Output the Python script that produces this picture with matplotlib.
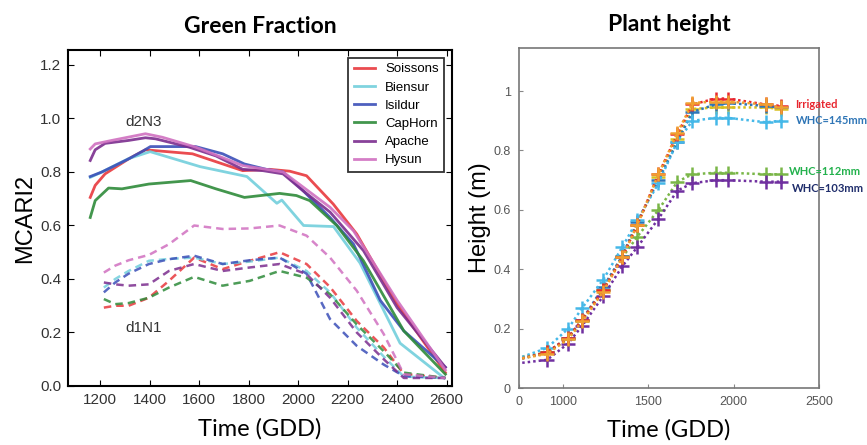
import numpy as np
import matplotlib
matplotlib.use("Agg")
import matplotlib.pyplot as plt

# ---- Green fraction (MCARI2) per cultivar, two treatments ----
cultivars = ["Soissons", "Biensur", "Isildur", "CapHorn", "Apache", "Hysun"]
cult_colors = ["#e8383d", "#72cfdc", "#3b4fb8", "#2e8b3a", "#7b2d8e", "#d070c0"]

# d2N3 (solid)
soissons_gdd = [1160, 1180, 1220, 1315, 1383, 1573, 1776, 1885, 1966, 2034, 2142, 2237, 2400, 2595]
soissons_hi = [0.705, 0.75, 0.793, 0.849, 0.883, 0.868, 0.805, 0.81, 0.803, 0.786, 0.68, 0.568, 0.306, 0.05]
biensur_gdd = [1160, 1207, 1315, 1402, 1604, 1793, 1914, 1934, 2022, 2143, 2250, 2412, 2590]
biensur_hi = [0.78, 0.80, 0.85, 0.876, 0.82, 0.783, 0.683, 0.695, 0.60, 0.596, 0.46, 0.16, 0.03]
isildur_gdd = [1160, 1207, 1315, 1376, 1403, 1586, 1695, 1783, 1871, 1939, 2020, 2129, 2224, 2332, 2427, 2595]
isildur_hi = [0.783, 0.80, 0.849, 0.88, 0.895, 0.895, 0.868, 0.83, 0.81, 0.80, 0.73, 0.63, 0.53, 0.32, 0.206, 0.07]
caphorn_gdd = [1160, 1180, 1234, 1288, 1397, 1566, 1668, 1783, 1925, 1993, 2047, 2156, 2264, 2427, 2595]
caphorn_hi = [0.63, 0.693, 0.74, 0.737, 0.755, 0.768, 0.737, 0.705, 0.72, 0.712, 0.693, 0.60, 0.468, 0.206, 0.044]
apache_gdd = [1160, 1180, 1220, 1315, 1383, 1424, 1559, 1668, 1776, 1858, 1939, 2020, 2129, 2264, 2400, 2595]
apache_hi = [0.843, 0.883, 0.907, 0.918, 0.928, 0.924, 0.893, 0.86, 0.81, 0.805, 0.793, 0.73, 0.65, 0.506, 0.293, 0.07]
hysun_gdd = [1160, 1180, 1247, 1383, 1451, 1586, 1776, 1939, 2129, 2224, 2400, 2595]
hysun_hi = [0.886, 0.905, 0.918, 0.943, 0.93, 0.893, 0.824, 0.80, 0.668, 0.58, 0.32, 0.06]

# d1N1 (dashed)
low_gdd = [1215, 1261, 1315, 1397, 1478, 1580, 1695, 1804, 1925, 2034, 2129, 2237, 2346, 2427, 2595]
soissons_lo = [0.293, 0.30, 0.30, 0.33, 0.393, 0.48, 0.437, 0.468, 0.50, 0.456, 0.37, 0.243, 0.144, 0.045, 0.03]
biensur_lo = [0.368, 0.40, 0.43, 0.468, 0.475, 0.48, 0.456, 0.465, 0.48, 0.43, 0.35, 0.218, 0.11, 0.035, 0.03]
isildur_lo = [0.35, 0.387, 0.42, 0.456, 0.474, 0.487, 0.456, 0.47, 0.48, 0.42, 0.25, 0.15, 0.08, 0.037, 0.03]
caphorn_lo = [0.325, 0.306, 0.31, 0.33, 0.368, 0.408, 0.375, 0.393, 0.43, 0.405, 0.343, 0.23, 0.13, 0.05, 0.03]
apache_lo = [0.387, 0.38, 0.375, 0.38, 0.43, 0.456, 0.43, 0.443, 0.456, 0.418, 0.33, 0.20, 0.10, 0.03, 0.03]
hysun_lo = [0.424, 0.45, 0.47, 0.49, 0.53, 0.60, 0.587, 0.589, 0.60, 0.562, 0.48, 0.356, 0.194, 0.044, 0.03]

hi_gdd = [soissons_gdd, biensur_gdd, isildur_gdd, caphorn_gdd, apache_gdd, hysun_gdd]
hi_vals = [soissons_hi, biensur_hi, isildur_hi, caphorn_hi, apache_hi, hysun_hi]
lo_vals = [soissons_lo, biensur_lo, isildur_lo, caphorn_lo, apache_lo, hysun_lo]

# ---- Plant height under water treatments ----
height_gdd = [760, 906, 1029, 1112, 1235, 1347, 1435, 1559, 1670, 1758, 1894, 1965, 2188, 2276]
h_red = [0.10, 0.12, 0.17, 0.23, 0.33, 0.44, 0.55, 0.72, 0.855, 0.955, 0.975, 0.975, 0.955, 0.95]
h_orange = [0.10, 0.115, 0.165, 0.225, 0.325, 0.44, 0.55, 0.72, 0.86, 0.96, 0.965, 0.965, 0.955, 0.945]
h_yellow = [0.105, 0.12, 0.17, 0.23, 0.33, 0.445, 0.55, 0.71, 0.84, 0.94, 0.945, 0.945, 0.945, 0.94]
h_blue = [0.10, 0.12, 0.17, 0.23, 0.34, 0.445, 0.56, 0.70, 0.83, 0.93, 0.955, 0.96, 0.95, 0.945]
h_lightblue = [0.105, 0.135, 0.20, 0.27, 0.365, 0.475, 0.565, 0.69, 0.83, 0.90, 0.91, 0.91, 0.895, 0.90]
h_green = [0.10, 0.12, 0.165, 0.225, 0.33, 0.44, 0.51, 0.60, 0.695, 0.72, 0.725, 0.725, 0.72, 0.72]
h_purple = [0.085, 0.095, 0.15, 0.21, 0.31, 0.41, 0.475, 0.57, 0.665, 0.69, 0.70, 0.70, 0.695, 0.695]
height_series = [h_yellow, h_blue, h_lightblue, h_green, h_purple, h_red, h_orange]
height_colors = ["#d8c020", "#2e75b6", "#45b8e8", "#7ab648", "#7030a0", "#e8262f", "#f0a030"]

treat_labels = ["Irrigated", "WHC=145mm", "WHC=112mm", "WHC=103mm"]
treat_pos = [(2358, 0.956), (2362, 0.90), (2322, 0.73), (2340, 0.673)]
treat_colors = ["#e8262f", "#2e75b6", "#22b14c", "#1f2d6b"]

fig = plt.figure(figsize=(8.67, 4.45), dpi=100)
ax1 = fig.add_axes([0.0784, 0.1326, 0.443, 0.755])
ax2 = fig.add_axes([0.5986, 0.128, 0.346, 0.764])

sans = ["Liberation Sans", "DejaVu Sans"]
title_font = ["Lato", "DejaVu Sans"]

# left panel
for name, col, gx, yh, yl in zip(cultivars, cult_colors, hi_gdd, hi_vals, lo_vals):
    ax1.plot(gx, yh, color=col, lw=2, label=name, alpha=0.9)
    ax1.plot(low_gdd, yl, color=col, lw=1.8, ls=(0, (3, 2)), alpha=0.85)

ax1.text(1301, 0.987, "d2N3", fontsize=11, family=sans, color="#333333", va="center")
ax1.text(1301, 0.217, "d1N1", fontsize=11, family=sans, color="#333333", va="center")
ax1.set_xlim(1070, 2622)
ax1.set_ylim(0, 1.256)
ax1.set_xticks(np.arange(1200, 2601, 200))
ax1.set_yticks(np.arange(0, 1.21, 0.2))
ax1.set_yticklabels(["%.1f" % v for v in np.arange(0, 1.21, 0.2)])
ax1.tick_params(direction="in", top=True, right=True, length=4, labelsize=11,
                labelcolor="#333333", pad=5)
for t in ax1.get_xticklabels() + ax1.get_yticklabels():
    t.set_family(sans)
for s in ax1.spines.values():
    s.set_linewidth(1.5)
ax1.set_ylabel("MCARI2", fontsize=17, family=sans, labelpad=3)
ax1.set_xlabel("Time (GDD)", fontsize=17, family=title_font, labelpad=8)
ax1.set_title("Green Fraction", fontsize=16.5, fontweight="bold", family=title_font, pad=12)
leg = ax1.legend(loc="upper right", prop={"family": sans, "size": 9.5},
                 fancybox=False, edgecolor="black", handlelength=1.6,
                 borderaxespad=0.6, labelspacing=0.45)
leg.get_frame().set_linewidth(1.3)

# right panel
for vals, col in zip(height_series, height_colors):
    ax2.plot(height_gdd, vals, color=col, ls=(0, (1, 1.2)), lw=1.8, marker="+", ms=10,
             mew=1.8, markevery=list(range(1, len(height_gdd))))
for lab, (gx, gy), col in zip(treat_labels, treat_pos, treat_colors):
    ax2.text(gx, gy, lab, color=col, fontsize=8, fontweight="bold", va="center",
             family=title_font, clip_on=False)

ax2.set_xlim(741, 2500)
ax2.set_ylim(0, 1.145)
ax2.set_xticks([741, 1000, 1500, 2000, 2500])
ax2.set_xticklabels(["0", "1000", "1500", "2000", "2500"])
ax2.set_yticks([0, 0.2, 0.4, 0.6, 0.8, 1.0])
ax2.set_yticklabels(["0", "0.2", "0.4", "0.6", "0.8", "1"])
ax2.tick_params(direction="in", length=3, labelsize=9, labelcolor="#555555",
                color="#888888", pad=6)
for t in ax2.get_xticklabels() + ax2.get_yticklabels():
    t.set_family(sans)
for s in ax2.spines.values():
    s.set_color("#777777")
    s.set_linewidth(1.2)
ax2.set_ylabel("Height (m)", fontsize=17, family=sans, labelpad=2)
ax2.set_xlabel("Time (GDD)", fontsize=17, family=title_font, labelpad=8)
ax2.set_title("Plant height", fontsize=16.5, fontweight="bold", family=title_font, pad=12)

fig.savefig("out.png", dpi=100)
